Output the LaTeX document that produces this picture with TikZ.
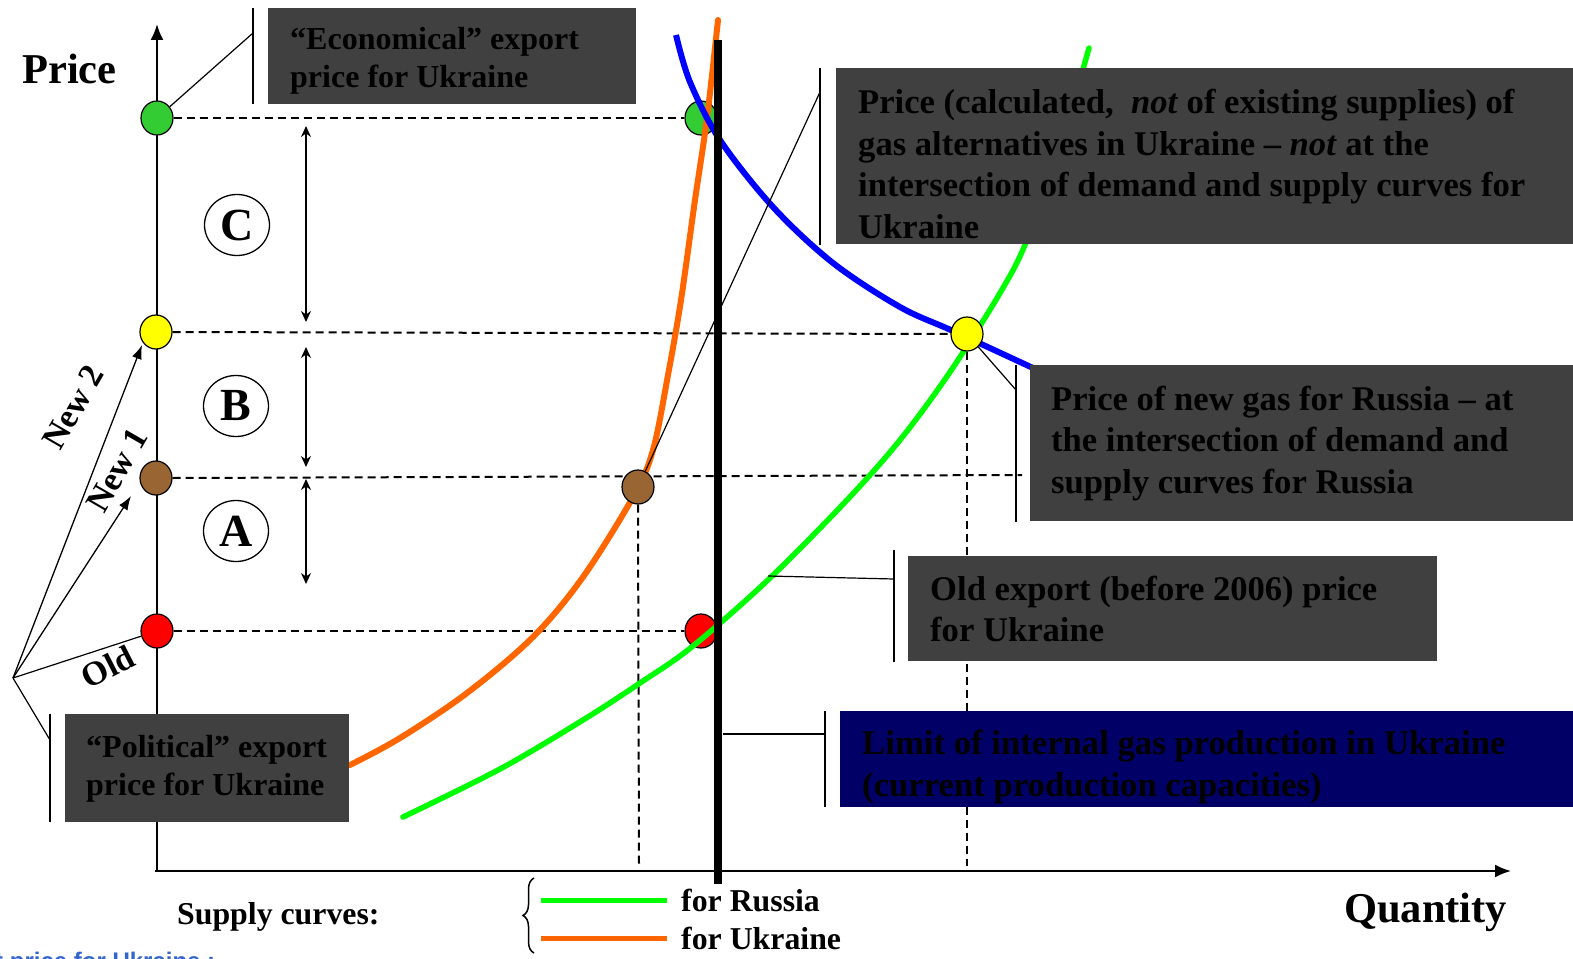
\documentclass[tikz,border=0pt]{standalone}
\usepackage{fontspec}
\setmainfont{Liberation Serif}
\setsansfont{Liberation Sans}
\usetikzlibrary{arrows.meta,shapes.geometric,decorations.pathreplacing}
\definecolor{boxgray}{HTML}{404040}
\definecolor{boxnavy}{HTML}{000066}
\definecolor{dotgreen}{HTML}{33CC33}
\definecolor{dotbrown}{HTML}{996633}
\definecolor{dotyellow}{HTML}{FFFF00}
\definecolor{dotred}{HTML}{FF0000}
\definecolor{supor}{HTML}{FF6600}
\definecolor{supgr}{HTML}{00FF00}
\definecolor{demblue}{HTML}{0000FF}
\definecolor{cutblue}{HTML}{3366CC}
\pgfdeclarelayer{fg}
\pgfsetlayers{main,fg}
\begin{document}
\begin{tikzpicture}[x=1pt,y=-1pt,
  dot/.style={ellipse, draw=black, line width=1.2pt, minimum width=32pt, minimum height=34pt, inner sep=0pt},
  dashline/.style={line width=2pt, dash pattern=on 8pt off 5pt},
  darkbox/.style={fill=boxgray, draw=none, inner sep=0pt, anchor=north west},
  navybox/.style={fill=boxnavy, draw=none, inner sep=0pt, anchor=north west},
  boxtxt/.style={anchor=base west, align=left, inner sep=0pt, font=\bfseries\fontsize{34.6}{41.5}\selectfont},
  bar/.style={line width=1.3pt},
  leader/.style={line width=1.2pt},
  axisline/.style={line width=2pt},
  gap/.style={line width=1.3pt, {Stealth[length=11pt,width=10pt]}-{Stealth[length=11pt,width=10pt]}},
  fanarrow/.style={line width=1.3pt, -{Latex[length=14pt,width=10pt]}},
  letter/.style={ellipse, draw=black, line width=1.3pt, minimum width=65pt, minimum height=61pt, inner sep=0pt, font=\bfseries\fontsize{46}{50}\selectfont},
  bigtxt/.style={anchor=base west, inner sep=0pt, font=\bfseries\fontsize{42.5}{46}\selectfont},
  legtxt/.style={anchor=base west, inner sep=0pt, font=\bfseries\fontsize{31.8}{36}\selectfont},
  fantxt/.style={inner sep=0pt, font=\bfseries\fontsize{34}{38}\selectfont},
  curve/.style={line cap=round}
]
\useasboundingbox (0,0) rectangle (1573,958);

% axes
\draw[axisline, -{Latex[length=16pt,width=13pt]}] (157,872) -- (157,24);
\draw[axisline, -{Latex[length=16pt,width=13pt]}] (155,871) -- (1511,871);

% dots (those under curves)
\node[dot, fill=dotgreen] (g1) at (157,118) {};
\node[dot, fill=dotyellow] (y1) at (156,332) {};
\node[dot, fill=dotbrown] (b1) at (156,478) {};
\node[dot, fill=dotred] (r1) at (157,631) {};
\node[dot, fill=dotgreen] (g2) at (701,118) {};
\node[dot, fill=dotred] (r2) at (701,631) {};
\begin{pgfonlayer}{fg}
\node[dot, fill=dotyellow] (y2) at (967,334) {};
\node[dot, fill=dotbrown] (b2) at (638,487) {};
\end{pgfonlayer}

% dashed guides
\coordinate (bend) at (1022,475);
\coordinate (bfoot) at (639,866);
\coordinate (yfoot) at (967,866);
\draw[dashline] (g1.east) -- (g2.west);
\draw[dashline] (y1.east) -- (y2.west);
\draw[dashline] (b1.east) -- (bend);
\draw[dashline] (r1.east) -- (r2.west);
\draw[dashline] (b2.south) -- (bfoot);
\draw[dashline] (y2.south) -- (yfoot);

% curves
\draw[supgr, line width=5.5pt, curve] plot[smooth, tension=0.55] coordinates
  {(403,817) (500,769) (583,720) (640,683) (693,646) (770,578) (847,500) (900,440) (950,372) (1000,293) (1027,240) (1062,140) (1089,48)};
\draw[supor, line width=6pt, curve] plot[smooth, tension=0.55] coordinates
  {(350,765) (400,738) (467,693) (533,637) (583,577) (633,497) (653,450) (668,375) (681,300) (695,200) (707,118) (718,20)};
\draw[demblue, line width=6pt] plot[smooth, tension=0.55] coordinates
  {(676,35) (690,82) (720,140) (773,207) (833,263) (900,307) (953,331) (1033,368)};

% limit line
\draw[line width=7.5pt] (718,40) -- (718,884);

% gap arrows and letters
\coordinate (ct) at (306,126); \coordinate (cb) at (306,322);
\coordinate (bt) at (306,347); \coordinate (bb) at (306,467);
\coordinate (at) at (306,479); \coordinate (ab) at (306,584);
\draw[gap] (ct) -- (cb);
\draw[gap] (bt) -- (bb);
\draw[gap] (at) -- (ab);
\node[letter] (lc) at (237,225) {C};
\node[letter] (lb) at (236,406) {B};
\node[letter] (la) at (236,531) {A};

% fan of price arrows
\coordinate (fan) at (13,678);
\coordinate (n2tip) at (142,345);
\coordinate (n1tip) at (131,496);
\coordinate (poltip) at (50,740);
\draw[fanarrow] (fan) -- (n2tip);
\draw[fanarrow] (fan) -- (n1tip);
\draw[leader] (fan) -- (r1);
\draw[leader] (fan) -- (poltip);
\node[fantxt, rotate=60] (tn2) at (73,407) {New 2};
\node[fantxt, rotate=60] (tn1) at (117,470) {New 1};
\node[fantxt, rotate=27] (told) at (108,667) {Old};

% "Economical" box
\node[darkbox, minimum width=368pt, minimum height=96pt] (econbox) at (268,8) {};
\draw[bar] (253,8) -- (253,104);
\coordinate (econtip) at (253,33);
\draw[leader] (g1) -- (econtip);
\node[boxtxt, font=\bfseries\fontsize{32}{37}\selectfont] (econtxt) at (290,87) {“Economical” export\\price for Ukraine};

% big calculated price box
\node[darkbox, minimum width=740pt, minimum height=176pt] (calcbox) at (836,68) {};
\draw[bar] (820,68) -- (820,245);
\coordinate (calctip) at (820,92);
\draw[leader] (b2) -- (calctip);
\node[boxtxt] (calctxt) at (858,238) {Price (calculated,\ \ \textit{not} of existing supplies) of\\gas alternatives in Ukraine -- \textit{not} at the\\intersection of demand and supply curves for\\Ukraine};

% Russia price box
\node[darkbox, minimum width=545pt, minimum height=156pt] (rusbox) at (1030,365) {};
\draw[bar] (1016,365) -- (1016,522);
\coordinate (rustip) at (1016,390);
\draw[leader] (y2) -- (rustip);
\node[boxtxt] (rustxt) at (1051,493) {Price of new gas for Russia -- at\\the intersection of demand and\\supply curves for Russia};

% Old export box
\node[darkbox, minimum width=529pt, minimum height=105pt] (oldbox) at (908,556) {};
\draw[bar] (894,550) -- (894,662);
\coordinate (oldfrom) at (768,576);
\coordinate (oldtip) at (894,579);
\draw[leader] (oldfrom) -- (oldtip);
\node[boxtxt, font=\bfseries\fontsize{34.6}{40.5}\selectfont] (oldtxt) at (930,641) {Old export (before 2006) price\\for Ukraine};

% Limit box
\node[navybox, minimum width=735pt, minimum height=96pt] (limbox) at (840,711) {};
\draw[bar] (825,711) -- (825,807);
\coordinate (limfrom) at (723,734);
\coordinate (limtip) at (825,734);
\draw[leader] (limfrom) -- (limtip);
\node[boxtxt, font=\bfseries\fontsize{34.7}{42}\selectfont] (limtxt) at (862,796) {Limit of internal gas production in Ukraine\\(current production capacities)};

% Political box
\node[darkbox, minimum width=284pt, minimum height=108pt] (polbox) at (65,714) {};
\draw[bar] (50,714) -- (50,822);
\node[boxtxt, font=\bfseries\fontsize{32}{38}\selectfont] (poltxt) at (86,795) {“Political” export\\price for Ukraine};

% axis labels
\node[bigtxt] (price) at (22,84) {Price};
\node[bigtxt] (qty) at (1344,922) {Quantity};

% legend
\node[legtxt] (supl) at (177,924) {Supply curves:};
\draw[line width=1.5pt, decorate, decoration={brace, amplitude=11pt}] (534,953) -- (534,878);
\coordinate (lg1) at (541,900); \coordinate (lg2) at (667,900);
\coordinate (lo1) at (541,938); \coordinate (lo2) at (667,938);
\draw[supgr, line width=5pt] (lg1) -- (lg2);
\draw[supor, line width=5pt] (lo1) -- (lo2);
\node[legtxt] (forru) at (681,911) {for Russia};
\node[legtxt] (forua) at (681,949) {for Ukraine};

% clipped text at bottom edge
\node[anchor=base west, inner sep=0pt, text=cutblue, font=\sffamily\bfseries\fontsize{24}{28}\selectfont] (cut) at (-5,969) {t price for Ukraine :};
\end{tikzpicture}
\end{document}
